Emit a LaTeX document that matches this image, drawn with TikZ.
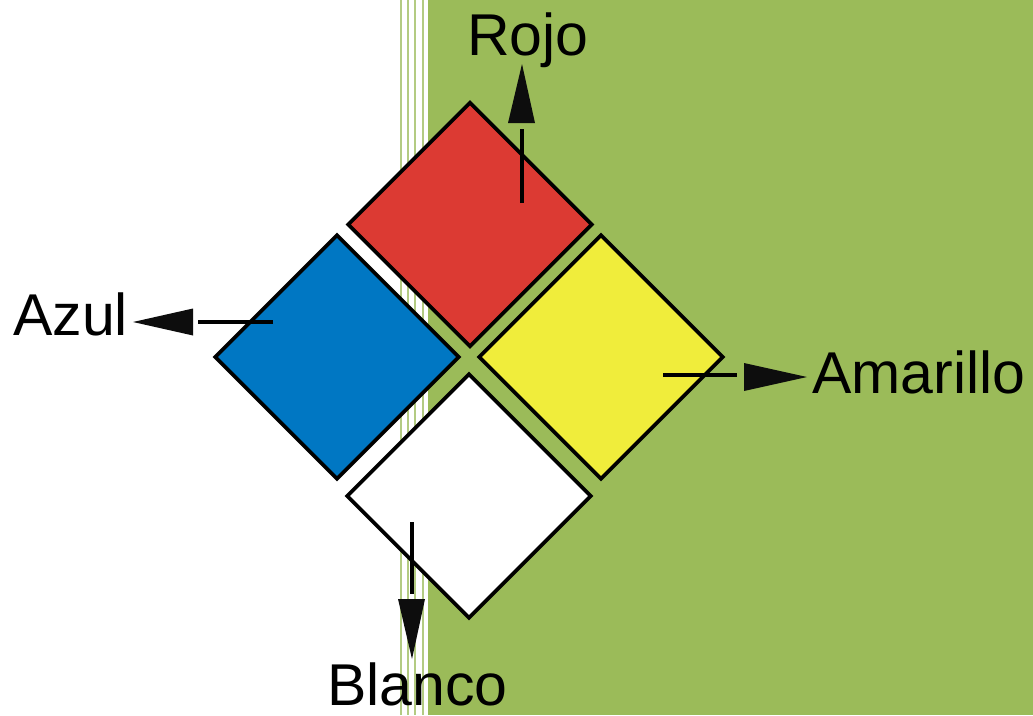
\documentclass[tikz,border=0pt]{standalone}
\usepackage{fontspec}
\setmainfont{Liberation Sans}
\usetikzlibrary{shapes.geometric}
\definecolor{bggreen}{HTML}{9BBB59}
\definecolor{stripegreen}{HTML}{B3CB82}
\definecolor{nfpared}{HTML}{DC3A33}
\definecolor{nfpablue}{HTML}{0077C3}
\definecolor{nfpayellow}{HTML}{F0ED3B}
\tikzset{
  panel/.style={diamond, draw=black, line width=3.7pt, aspect=1, inner sep=0pt,
                minimum width=245pt, minimum height=245pt, line join=miter},
  lbl/.style={anchor=base west, inner sep=0pt, font=\fontsize{59}{68}\selectfont},
  stem/.style={line width=4pt, black},
  head/.style={fill=black!95},
  stripe/.style={stripegreen, line width=1.8pt}
}
\begin{document}
\begin{tikzpicture}[x=1pt,y=-1pt]
\useasboundingbox (0,0) rectangle (1033,715);
% background
\fill[white] (0,0) rectangle (1033,715);
\fill[bggreen] (428,0) rectangle (1033,715);
\foreach \sx in {401,408,415,423} \draw[stripe] (\sx,0) -- (\sx,715);
% diamonds
\node[panel, fill=nfpared]    (red)    at (470,224.5) {};
\node[panel, fill=nfpablue]   (blue)   at (337,357)   {};
\node[panel, fill=nfpayellow] (yellow) at (601,357)   {};
\node[panel, fill=white]      (white)  at (469,496)   {};
% labels
\node[lbl] (rojo)     at (467,55)  {Rojo};
\node[lbl] (azul)     at (13,335)  {Azul};
\node[lbl] (amarillo) at (812,393) {Amarillo};
\node[lbl] (blanco)   at (327,705) {Blanco};
% Rojo arrow
\coordinate (r1) at (522,203); \coordinate (r2) at (522,129);
\draw[stem] (r1) -- (r2);
\fill[head] (508,123) -- (535,123) -- (522,64) -- cycle;
% Azul arrow
\coordinate (a1) at (273,322); \coordinate (a2) at (198,322);
\draw[stem] (a1) -- (a2);
\fill[head] (193,308.5) -- (193,335.5) -- (133,322) -- cycle;
% Amarillo arrow
\coordinate (y1) at (663,374.5); \coordinate (y2) at (737,374.5);
\draw[stem] (y1) -- (y2);
\fill[head] (744,363) -- (744,391) -- (807,377) -- cycle;
% Blanco arrow
\coordinate (w1) at (412,522); \coordinate (w2) at (412,594);
\draw[stem] (w1) -- (w2);
\fill[head] (398,599) -- (425,599) -- (412,659) -- cycle;
\end{tikzpicture}
\end{document}
